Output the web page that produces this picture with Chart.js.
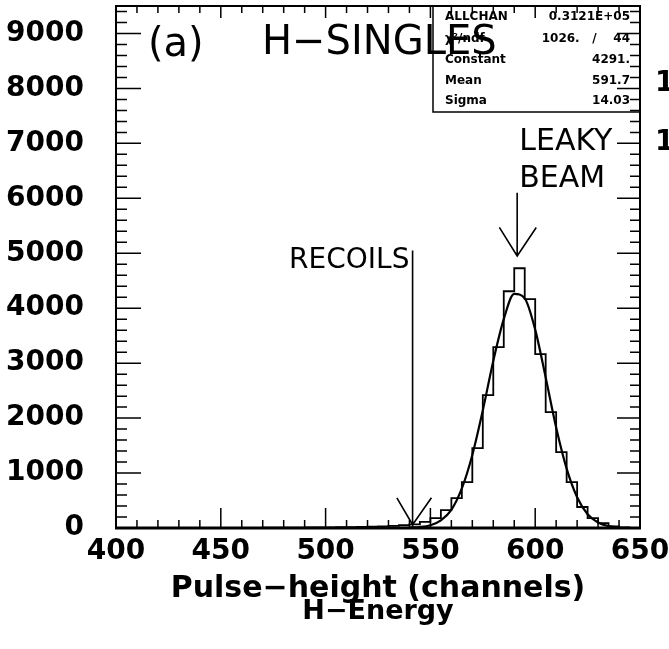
<!DOCTYPE html>
<html>
<head>
<meta charset="utf-8">
<script src="https://cdn.jsdelivr.net/npm/chart.js@4"></script>
<style>
  body { margin: 0; background: #fff; }
  #wrap { width: 669px; height: 649px; }
</style>
</head>
<body>
<div id="wrap"><canvas id="hChart"></canvas></div>
<script>
// histogram: 5-channel bins starting at channel 465
const binStart = 465;
const binWidth = 5;
const counts = [0, 5, 5, 5, 5, 10, 10, 10, 15, 15, 20, 25, 30, 40, 50, 65,
  110, 180, 327, 545, 836, 1455, 2418, 3291, 4309, 4727, 4164, 3164, 2109,
  1382, 836, 382, 180, 90, 30, 10];

// gaussian fit curve
const fitX = [540, 545, 550, 555, 560, 565, 570, 575, 580, 585, 590, 595,
  600, 605, 610, 615, 620, 625, 630, 635, 640];
const fitY = [8, 17, 50, 140, 330, 720, 1330, 2140, 3040, 3800, 4260, 4180,
  3610, 2740, 1830, 1080, 560, 250, 100, 35, 10];

const xTicks = [400, 450, 500, 550, 600, 650];
const yTicks = [0, 1000, 2000, 3000, 4000, 5000, 6000, 7000, 8000, 9000];

const statsRows = [
  ['ALLCHAN', '0.3121E+05'],
  ['\u03C7\u00B2/ndf', '1026.   /    44'],
  ['Constant', '4291.'],
  ['Mean', '591.7'],
  ['Sigma', '14.03']
];

// each point starts a bin; the last point closes the last bin
const histPoints = [{ x: binStart, y: 0 }];
counts.forEach((c, i) => histPoints.push({ x: binStart + (i + 1) * binWidth, y: c }));
histPoints.push({ x: binStart + counts.length * binWidth, y: 0 });
const fitPoints = fitX.map((x, i) => ({ x: x, y: fitY[i] }));

const FONT = '"DejaVu Sans", sans-serif';

// frame, inward ticks and all the labels written on the plot
const decorations = {
  id: 'decorations',
  afterDraw(chart) {
    const ctx = chart.ctx;
    const xs = chart.scales.x, ys = chart.scales.y, a = chart.chartArea;
    const X = v => xs.getPixelForValue(v);
    const Y = v => ys.getPixelForValue(v);
    ctx.save();
    ctx.strokeStyle = '#000';
    ctx.fillStyle = '#000';

    // stats box
    ctx.lineWidth = 1.5;
    ctx.strokeRect(433, a.top, a.right - 433, 106);
    ctx.font = 'bold 12px ' + FONT;
    ctx.textBaseline = 'middle';
    const rowY = [17, 39, 60, 81, 101];
    statsRows.forEach((r, i) => {
      ctx.textAlign = 'left';
      ctx.fillText(r[0], 445, rowY[i]);
      ctx.textAlign = 'right';
      ctx.fillText(r[1], 630, rowY[i]);
    });

    // title
    ctx.font = '40px ' + FONT;
    ctx.textAlign = 'left';
    ctx.textBaseline = 'middle';
    ctx.fillText('(a)', 148, 46);
    ctx.fillText('H\u2212SINGLES', 262, 44);

    // recoils marker
    ctx.lineWidth = 1.6;
    ctx.font = '28px ' + FONT;
    ctx.textAlign = 'right';
    ctx.textBaseline = 'alphabetic';
    ctx.fillText('RECOILS', X(540), Y(4730));
    ctx.beginPath();
    ctx.moveTo(X(541.5), Y(5050));
    ctx.lineTo(X(541.5), Y(0));
    ctx.moveTo(X(534), Y(550));
    ctx.lineTo(X(541.5), Y(60));
    ctx.lineTo(X(550.5), Y(550));
    ctx.stroke();

    // leaky beam marker
    ctx.font = '30px ' + FONT;
    ctx.textAlign = 'left';
    ctx.textBaseline = 'middle';
    ctx.fillText('LEAKY', X(592.4), Y(7030));
    ctx.fillText('BEAM', X(592.4), Y(6340));
    ctx.beginPath();
    ctx.moveTo(X(591.4), Y(6100));
    ctx.lineTo(X(591.4), Y(4950));
    ctx.moveTo(X(582.9), Y(5470));
    ctx.lineTo(X(591.4), Y(4950));
    ctx.lineTo(X(600.5), Y(5470));
    ctx.stroke();

    // ticks pointing inward on all four sides
    ctx.lineWidth = 1.5;
    ctx.beginPath();
    for (let v = 400; v <= 650; v += 10) {
      const px = X(v), major = v % 50 === 0;
      ctx.moveTo(px, a.bottom);
      ctx.lineTo(px, a.bottom - (major ? 20 : 8));
      ctx.moveTo(px, a.top);
      ctx.lineTo(px, a.top + (major ? 12 : 7));
    }
    for (let v = 0; v <= 9400; v += 200) {
      const py = Y(v), major = v % 1000 === 0;
      ctx.moveTo(a.left, py);
      ctx.lineTo(a.left + (major ? 25 : 11), py);
      ctx.moveTo(a.right, py);
      ctx.lineTo(a.right - (major ? 23 : 10), py);
    }
    ctx.stroke();

    // frame
    ctx.lineWidth = 2;
    ctx.strokeRect(a.left, a.top, a.right - a.left, a.bottom - a.top);
    ctx.lineWidth = 3;
    ctx.beginPath();
    ctx.moveTo(a.left - 1, a.bottom);
    ctx.lineTo(a.right + 1, a.bottom);
    ctx.stroke();

    // axis titles
    const cx = (a.left + a.right) / 2;
    ctx.textAlign = 'center';
    ctx.font = 'bold 30px ' + FONT;
    ctx.fillText('Pulse\u2212height (channels)', cx, 589);
    ctx.font = 'bold 27px ' + FONT;
    ctx.fillText('H\u2212Energy', cx, 612);

    // edge of the neighbouring panel
    ctx.font = 'bold 28px ' + FONT;
    ctx.textAlign = 'left';
    ctx.fillText('1', 655, 84);
    ctx.fillText('1', 655, 143);
    ctx.restore();
  }
};

new Chart(document.getElementById('hChart'), {
  type: 'line',
  data: {
    datasets: [{
      label: 'H-singles',
      data: histPoints,
      stepped: 'after',
      borderColor: '#000',
      borderWidth: 1.8,
      pointRadius: 0,
      fill: false
    }, {
      label: 'fit',
      data: fitPoints,
      borderColor: '#000',
      borderWidth: 2.2,
      pointRadius: 0,
      cubicInterpolationMode: 'monotone',
      fill: false
    }]
  },
  options: {
    responsive: true,
    maintainAspectRatio: false,
    animation: false,
    layout: { padding: { top: 6, right: 29, left: 0, bottom: 0 } },
    plugins: { legend: { display: false }, tooltip: { enabled: false } },
    scales: {
      x: {
        type: 'linear',
        min: 400,
        max: 650,
        grid: { display: false, drawTicks: false },
        border: { display: false },
        afterBuildTicks: s => { s.ticks = xTicks.map(v => ({ value: v })); },
        afterFit: s => { s.height = 121; s.paddingLeft = 0; s.paddingRight = 0; },
        ticks: {
          color: '#000',
          padding: 7,
          maxRotation: 0,
          autoSkip: false,
          callback: v => String(v),
          font: { family: FONT, size: 28, weight: 'bold' }
        }
      },
      y: {
        min: 0,
        max: 9500,
        grid: { display: false, drawTicks: false },
        border: { display: false },
        afterBuildTicks: s => { s.ticks = yTicks.map(v => ({ value: v })); },
        afterFit: s => { s.width = 116; s.paddingTop = 0; s.paddingBottom = 0; },
        ticks: {
          color: '#000',
          padding: 32,
          autoSkip: false,
          callback: v => String(v),
          font: { family: FONT, size: 28, weight: 'bold' }
        }
      }
    }
  },
  plugins: [decorations]
});
</script>
</body>
</html>
